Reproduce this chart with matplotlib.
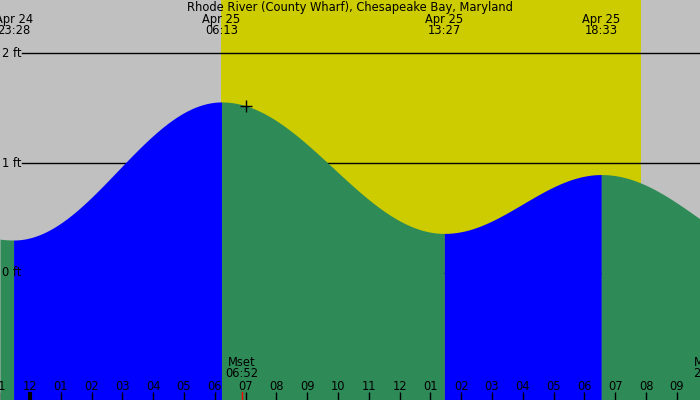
import numpy as np
import matplotlib
matplotlib.use("Agg")
import matplotlib.pyplot as plt

# ---- data (hours relative to Apr 25 00:00) ----
title = "Rhode River (County Wharf), Chesapeake Bay, Maryland"
extreme_hours = [-7.2, -0.533, 6.217, 13.45, 18.55, 25.0]   # tide extrema times
extreme_heights = [1.05, 0.30, 1.555, 0.36, 0.895, 0.08]     # ft
shown_labels = [("Apr 24", "23:28"), ("Apr 25", "06:13"), ("Apr 25", "13:27"), ("Apr 25", "18:33")]
shown_idx = [1, 2, 3, 4]
sunrise_h = 6.217
sunset_h = 19.83
moon_events = [("Mset", "06:52", 6.867), ("Mrise", "22:04", 22.07)]
now_h = 7.0
ft_levels = [0, 1, 2]
hour_ticks = list(range(-1, 22))

# ---- geometry ----
px_per_h = 30.8
x0_px = 30.0
xmin = -x0_px / px_per_h
xmax = (700 - x0_px) / px_per_h
px_per_ft = 110.0
ymax = 273 / px_per_ft
ymin = -127 / px_per_ft

def tide(t):
    t = np.asarray(t, dtype=float)
    out = np.zeros_like(t)
    for i in range(len(extreme_hours) - 1):
        a, b = extreme_hours[i], extreme_hours[i + 1]
        ha, hb = extreme_heights[i], extreme_heights[i + 1]
        m = (t >= a) & (t <= b)
        f = (t[m] - a) / (b - a)
        out[m] = ha + (hb - ha) * (1 - np.cos(np.pi * f)) / 2
    return out

fig = plt.figure(figsize=(7, 4), dpi=100)
ax = fig.add_axes([0, 0, 1, 1])
ax.set_xlim(xmin, xmax)
ax.set_ylim(ymin, ymax)
ax.axis("off")

GRAY = "#c0c0c0"
YELLOW = "#cccc00"
GREEN = "#2e8b57"
BLUE = "#0000ff"

ax.axvspan(xmin, xmax, color=GRAY, zorder=0)
ax.axvspan(sunrise_h, sunset_h, color=YELLOW, zorder=0.5, lw=0)

fs = 8.3
# ft lines (behind water)
for lv in ft_levels:
    ax.plot([22 / px_per_h + xmin, xmax], [lv, lv], color="black", lw=1, zorder=1)
    ax.text(xmin + 2 / px_per_h, lv, f"{lv} ft", ha="left", va="center", fontsize=fs, zorder=5)

# water
for i in range(len(extreme_hours) - 1):
    a, b = extreme_hours[i], extreme_hours[i + 1]
    a2, b2 = max(a, xmin), min(b, xmax)
    if a2 >= b2:
        continue
    t = np.linspace(a2, b2, 300)
    rising = extreme_heights[i + 1] > extreme_heights[i]
    ax.fill_between(t, ymin, tide(t), color=BLUE if rising else GREEN, lw=0, zorder=2)

ax.plot([now_h], tide([now_h]), marker="+", color="black", ms=9, mew=1, zorder=6)

# title and extrema labels
ax.text((xmin + xmax) / 2, ymax - 8 / px_per_ft, title, ha="center", va="center", fontsize=fs, zorder=6)
for (d, tm), i in zip(shown_labels, shown_idx):
    x = extreme_hours[i]
    ax.text(x, ymax - 19.5 / px_per_ft, d, ha="center", va="center", fontsize=fs, zorder=6)
    ax.text(x, ymax - 31 / px_per_ft, tm, ha="center", va="center", fontsize=fs, zorder=6)

# hour ticks
for h in hour_ticks:
    lab = f"{(h % 12) if (h % 12) else 12:02d}"
    ax.text(h, ymin + 14 / px_per_ft, lab, ha="center", va="center", fontsize=fs, zorder=6)
    ax.plot([h, h], [ymin, ymin + 8 / px_per_ft], color="black", lw=3 if h == 0 else 1,
            zorder=6, solid_capstyle="butt")

# moon events
for name, tm, h in moon_events:
    ax.text(h, ymin + 38 / px_per_ft, name, ha="center", va="center", fontsize=fs, zorder=6)
    ax.text(h, ymin + 26.5 / px_per_ft, tm, ha="center", va="center", fontsize=fs, zorder=6)
    ax.plot([h, h], [ymin, ymin + 8 / px_per_ft], color="red", lw=1, zorder=6)

fig.savefig("out.png", dpi=100)
